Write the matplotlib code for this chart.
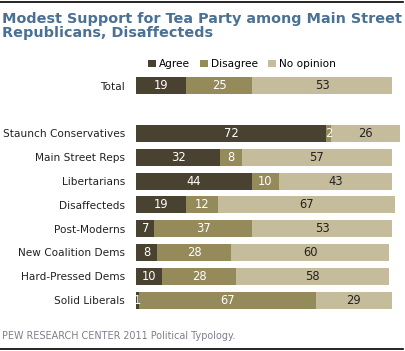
import matplotlib
matplotlib.use("Agg")
import numpy as np
from matplotlib import pyplot as plt
from matplotlib.lines import Line2D
from matplotlib.patches import Patch

groups = ["Total", "Staunch Conservatives", "Main Street Reps", "Libertarians",
          "Disaffecteds", "Post-Moderns", "New Coalition Dems",
          "Hard-Pressed Dems", "Solid Liberals"]
agree = [19, 72, 32, 44, 19, 7, 8, 10, 1]
disagree = [25, 2, 8, 10, 12, 37, 28, 28, 67]
no_opinion = [53, 26, 57, 43, 67, 53, 60, 58, 29]
rows = [0, 2, 3, 4, 5, 6, 7, 8, 9]

series = [("Agree", agree, "#4a4230", "white"),
          ("Disagree", disagree, "#948a5a", "white"),
          ("No opinion", no_opinion, "#c5bc9b", "#222222")]

W, H = 405, 351
fig = plt.figure(figsize=(W / 100, H / 100), dpi=100)
ax = fig.add_axes([136 / W, 1 - 312 / H, 264 / W, 238 / H])

left = np.zeros(len(groups))
handles = []
for name, vals, color, tcolor in series:
    vals = np.array(vals, dtype=float)
    ax.barh(rows, vals, left=left, height=0.72, color=color, edgecolor="none")
    for r, l, v in zip(rows, left, vals):
        ax.text(l + v / 2, r, f"{int(v)}", ha="center", va="center",
                fontsize=8.3, color=tcolor)
    left += vals
    handles.append(Patch(facecolor=color, edgecolor="none", label=name))

ax.set_xlim(0, 100)
ax.set_ylim(9.5, -0.5)
ax.set_yticks(rows)
ax.set_yticklabels(groups, fontsize=7.6, color="#222222")
ax.tick_params(axis="y", length=0, pad=8)
ax.set_xticks([])
for s in ax.spines.values():
    s.set_visible(False)

fig.legend(handles=handles, loc="center", bbox_to_anchor=(242 / W, 1 - 64 / H),
           ncol=3, frameon=False, fontsize=7.6, handlelength=0.7,
           handleheight=0.7, handletextpad=0.3, columnspacing=1.0)

fig.text(2 / W, 1 - 26 / H, "Modest Support for Tea Party among Main Street\nRepublicans, Disaffecteds",
         ha="left", va="center", fontsize=10.35, fontweight="bold",
         color="#4a7194", linespacing=1.0)
fig.text(2 / W, 1 - 336 / H, "PEW RESEARCH CENTER 2011 Political Typology.",
         ha="left", va="center", fontsize=6.9, color="#857b8c")

fig.add_artist(Line2D([0, 403 / W], [1 - 1.5 / H, 1 - 1.5 / H], color="black", lw=1.2))
fig.add_artist(Line2D([0, 403 / W], [1 - 349 / H, 1 - 349 / H], color="black", lw=1.2))

fig.savefig("out.png", dpi=100)
